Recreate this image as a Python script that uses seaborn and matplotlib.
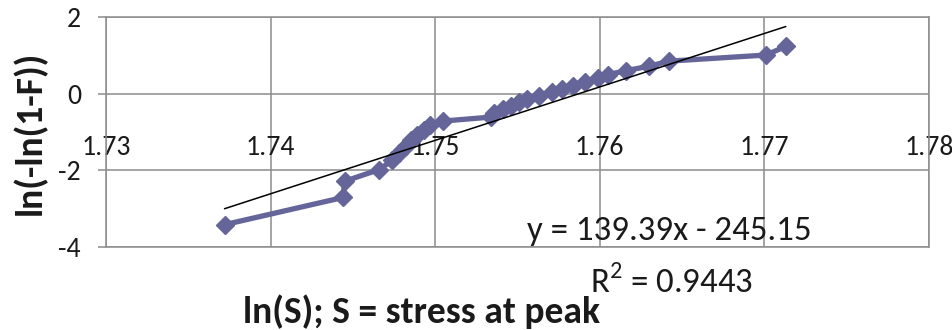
import matplotlib
matplotlib.use("Agg")
import matplotlib.pyplot as plt
from matplotlib import font_manager
import seaborn as sns

# ---- data ----
ln_s = [1.7372, 1.7444, 1.7445, 1.7466, 1.7474, 1.7478, 1.7482, 1.7485,
        1.7489, 1.7493, 1.7497, 1.7505, 1.7534, 1.7536, 1.7541, 1.7546,
        1.7551, 1.7556, 1.7563, 1.7571, 1.7577, 1.7584, 1.7591, 1.7599,
        1.7605, 1.7616, 1.7630, 1.7642, 1.7701, 1.7713]
weibull_y = [-3.418, -2.708, -2.285, -1.979, -1.738, -1.537, -1.363, -1.209,
             -1.070, -0.943, -0.825, -0.714, -0.610, -0.510, -0.413, -0.320,
             -0.230, -0.140, -0.052, 0.035, 0.123, 0.213, 0.304, 0.397,
             0.496, 0.601, 0.717, 0.848, 1.008, 1.234]
trend_slope = 139.39
trend_intercept = -245.15
x_ticks = [1.73, 1.74, 1.75, 1.76, 1.77, 1.78]
x_tick_labels = ["1.73", "1.74", "1.75", "1.76", "1.77", "1.78"]
y_ticks = [-4, -2, 0, 2]
y_tick_labels = ["-4", "-2", "0", "2"]
eq_text = "y = 139.39x - 245.15"
r2_text = "R$^2$ = 0.9443"
x_title = "ln(S); S = stress at peak"
y_title = "ln(-ln(1-F))"

sns.set_theme(style="white")
avail = {f.name for f in font_manager.fontManager.ttflist}
fam = "Carlito" if "Carlito" in avail else "Lato"
plt.rcParams["font.family"] = [fam, "DejaVu Sans"]
plt.rcParams["mathtext.fontset"] = "custom"
plt.rcParams["mathtext.rm"] = fam

grid_c = "#8c8c8c"
series_c = "#65659a"
text_c = "#1a1a1a"

fig = plt.figure(figsize=(9.53, 3.30), dpi=100)
ax = fig.add_axes([106/953, 1-247/330, (929-106)/953, (247-17)/330])

sns.lineplot(x=ln_s, y=weibull_y, ax=ax, color=series_c, linewidth=3.8,
             marker="D", markersize=9, markeredgecolor=series_c,
             markeredgewidth=1, estimator=None, sort=False, zorder=3)

x0, x1 = min(ln_s), max(ln_s)
sns.lineplot(x=[x0, x1], y=[trend_slope*x0 + trend_intercept,
                            trend_slope*x1 + trend_intercept],
             ax=ax, color="black", linewidth=1.1, zorder=4)

ax.set_xlim(1.73, 1.78)
ax.set_ylim(-4, 2)
ax.set_xticks(x_ticks)
ax.set_xticklabels(x_tick_labels)
ax.set_yticks(y_ticks)
ax.set_yticklabels(y_tick_labels)

ax.grid(True, color=grid_c, linewidth=1.1)
ax.set_axisbelow(True)
for s in ["left", "right", "top"]:
    ax.spines[s].set_color(grid_c)
    ax.spines[s].set_linewidth(1.1)
ax.spines["bottom"].set_position(("data", 0))
ax.spines["bottom"].set_visible(False)
ax.axhline(-4, color=grid_c, linewidth=1.1, clip_on=False, zorder=1)

ax.tick_params(axis="x", length=0, pad=30, labelsize=20, labelcolor=text_c)
ax.tick_params(axis="y", left=True, length=6, width=1.1, color=grid_c,
               pad=12, labelsize=20, labelcolor=text_c)

ax.set_xlabel("")
ax.set_ylabel("")
fig.text(422/953, 1-312/330, x_title, ha="center", va="center",
         fontsize=27, fontweight="bold", color=text_c)
fig.text(30/953, 1-133/330, y_title, ha="center", va="center",
         rotation=90, fontsize=27, fontweight="bold", color=text_c)
fig.text(527/953, 1-231/330, eq_text, ha="left", va="center",
         fontsize=25, color=text_c)
fig.text(590/953, 1-282/330, r2_text, ha="left", va="center",
         fontsize=25, color=text_c)

fig.savefig("out.png", dpi=100)
